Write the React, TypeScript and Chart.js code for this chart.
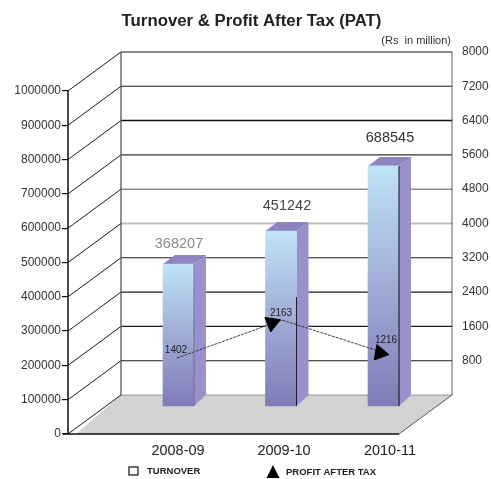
import React, { useEffect, useRef } from "react";
import { Chart, registerables } from "chart.js";

Chart.register(...registerables);

const categories = ["2008-09", "2009-10", "2010-11"];
const turnoverPrinted = ["368207", "451242", "688545"];
const patPrinted = ["1402", "2163", "1216"];
// heights of the bars as read against the left axis
const turnoverBars = [414000, 510000, 700000];
// where the PAT line runs, read against the right axis
const patLineX = [-0.015, 1.01, 2.015];
const patLineY = [862, 1748, 979];
const patMarkerX = [0.912, 1.966];
const patMarkerY = [1678, 979];
const patMarkerTilt = [188, -20];
const leftTicks = [0, 100000, 200000, 300000, 400000, 500000, 600000, 700000, 800000, 900000, 1000000];
const rightTicks = [800, 1600, 2400, 3200, 4000, 4800, 5600, 6400, 7200, 8000];
const legendNames = ["TURNOVER", "PROFIT AFTER TAX"];
const unitNote = "(Rs  in million)";
const titleText = "Turnover & Profit After Tax (PAT)";

const FONT = "'Liberation Sans', Arial, sans-serif";
const DX = 53;
const DY = 39;
const BAR_W = 31;
const SIDE_X = 12;
const SIDE_Y = 9;

const wallColors: Record<number, [string, number]> = {
  4000: ["#bdbdbd", 2],
  4800: ["#555555", 1],
  5600: ["#333333", 1.2],
  6400: ["#111111", 1.4],
};

const scene = {
  id: "scene",
  beforeDatasetsDraw(chart: any) {
    const { ctx, chartArea: a, scales } = chart;
    const yL = scales.y;
    const yR = scales.yR;
    const floorBack = yR.getPixelForValue(0);
    const floorFront = yL.getPixelForValue(0);
    const backL = a.left + DX;
    const backR = a.right;
    const frontR = a.right - DX;
    ctx.save();
    // floor
    ctx.fillStyle = "#d2d2d2";
    ctx.beginPath();
    ctx.moveTo(a.left + 8, floorFront);
    ctx.lineTo(frontR, floorFront);
    ctx.lineTo(backR, floorBack);
    ctx.lineTo(backL, floorBack);
    ctx.closePath();
    ctx.fill();
    // back wall lines
    for (const v of rightTicks) {
      const y = yR.getPixelForValue(v);
      const [c, w] = wallColors[v] || ["#1a1a1a", 1.1];
      ctx.strokeStyle = c;
      ctx.lineWidth = w;
      ctx.beginPath();
      ctx.moveTo(backL, y);
      ctx.lineTo(backR, y);
      ctx.stroke();
    }
    ctx.strokeStyle = "#9a9a9a";
    ctx.lineWidth = 1.2;
    ctx.beginPath();
    ctx.moveTo(backL, floorBack);
    ctx.lineTo(backR, floorBack);
    ctx.stroke();
    // side wall lines
    ctx.strokeStyle = "#1a1a1a";
    ctx.lineWidth = 1;
    for (const v of leftTicks) {
      const y = yL.getPixelForValue(v);
      ctx.beginPath();
      ctx.moveTo(a.left, y);
      ctx.lineTo(backL, y - DY);
      ctx.stroke();
    }
    // verticals
    ctx.strokeStyle = "#555555";
    ctx.lineWidth = 1.3;
    ctx.beginPath();
    ctx.moveTo(backL, yR.getPixelForValue(8000));
    ctx.lineTo(backL, floorBack);
    ctx.stroke();
    ctx.strokeStyle = "#333333";
    ctx.lineWidth = 0.8;
    ctx.beginPath();
    ctx.moveTo(backR, yR.getPixelForValue(8000));
    ctx.lineTo(backR, floorBack);
    ctx.lineTo(frontR, floorFront);
    ctx.stroke();
    ctx.strokeStyle = "#111111";
    ctx.lineWidth = 1.5;
    ctx.beginPath();
    ctx.moveTo(a.left, yL.getPixelForValue(1000000));
    ctx.lineTo(a.left, floorFront);
    ctx.moveTo(a.left - 5, floorFront);
    ctx.lineTo(frontR, floorFront);
    ctx.stroke();
    // bar sides and tops
    const meta = chart.getDatasetMeta(0);
    meta.data.forEach((bar: any) => {
      const l = bar.x - BAR_W / 2;
      const r = bar.x + BAR_W / 2;
      const t = bar.y;
      const b = bar.base;
      ctx.fillStyle = "#9a90cc";
      ctx.beginPath();
      ctx.moveTo(r, t);
      ctx.lineTo(r + SIDE_X, t - SIDE_Y);
      ctx.lineTo(r + SIDE_X, b - 11);
      ctx.lineTo(r, b);
      ctx.closePath();
      ctx.fill();
      ctx.fillStyle = "#8d84c0";
      ctx.beginPath();
      ctx.moveTo(l, t);
      ctx.lineTo(l + SIDE_X, t - SIDE_Y);
      ctx.lineTo(r + SIDE_X, t - SIDE_Y);
      ctx.lineTo(r, t);
      ctx.closePath();
      ctx.fill();
    });
    ctx.restore();
  },
  afterDatasetsDraw(chart: any) {
    const { ctx, chartArea: a } = chart;
    const meta = chart.getDatasetMeta(0);
    const edge = ["#6c6c90", "#1c1c30", "#0c0c18"];
    const edgeTop = [264, 297, 166];
    ctx.save();
    meta.data.forEach((bar: any, i: number) => {
      ctx.strokeStyle = edge[i];
      ctx.lineWidth = 1;
      ctx.beginPath();
      ctx.moveTo(bar.x + BAR_W / 2, edgeTop[i]);
      ctx.lineTo(bar.x + BAR_W / 2, bar.base);
      ctx.stroke();
    });
    // printed values above the bars
    const grey = ["#8a8a8a", "#444444", "#333333"];
    const xShift = [0.5, 6, 6.5];
    const yLift = [20, 25, 28];
    ctx.font = `14.5px ${FONT}`;
    ctx.textAlign = "center";
    ctx.textBaseline = "middle";
    meta.data.forEach((bar: any, i: number) => {
      ctx.fillStyle = grey[i];
      ctx.fillText(turnoverPrinted[i], bar.x + xShift[i], bar.y - yLift[i]);
    });
    // printed PAT values next to the line
    const line = chart.getDatasetMeta(1);
    const off = [[-1, -8], [-1, -7], [1, -13]];
    ctx.font = `10px ${FONT}`;
    ctx.fillStyle = "#222222";
    line.data.forEach((p: any, i: number) => {
      ctx.fillText(patPrinted[i], p.x + off[i][0], p.y + off[i][1]);
    });
    // unit note
    ctx.font = `11px ${FONT}`;
    ctx.fillStyle = "#333333";
    ctx.textAlign = "right";
    ctx.fillText(unitNote, a.right - 1, a.top - 11);
    // legend
    const ly = 471;
    ctx.textAlign = "left";
    ctx.font = `bold 9.5px ${FONT}`;
    ctx.fillStyle = "#222222";
    ctx.fillText(legendNames[0], 147, ly);
    ctx.fillText(legendNames[1], 286, ly + 1);
    ctx.strokeStyle = "#111111";
    ctx.lineWidth = 1.2;
    ctx.strokeRect(129, ly - 4, 9, 8);
    ctx.fillStyle = "#000000";
    ctx.beginPath();
    ctx.moveTo(273, ly - 6);
    ctx.lineTo(279.5, ly + 7);
    ctx.lineTo(266.5, ly + 7);
    ctx.closePath();
    ctx.fill();
    ctx.restore();
  },
};

const bottomTick = (s: any) => {
  s.ticks = [0, 1, 2].map((value) => ({ value }));
};

export default function App() {
  const ref = useRef<HTMLCanvasElement | null>(null);
  useEffect(() => {
    document.body.style.margin = "0";
    const chart = new Chart(ref.current as HTMLCanvasElement, {
      type: "bar",
      plugins: [scene],
      data: {
        datasets: [
          {
            type: "bar",
            label: legendNames[0],
            xAxisID: "xBar",
            yAxisID: "yBar",
            data: turnoverBars.map((y, x) => ({ x, y })),
            barThickness: BAR_W,
            borderWidth: 0,
            order: 3,
            backgroundColor: (c: any) => {
              const sc = c.chart.scales.yBar;
              if (!sc || !c.raw || !c.chart.chartArea) return "#a0b4dc";
              const top = sc.getPixelForValue(c.raw.y);
              const base = sc.getPixelForValue(0);
              if (!Number.isFinite(top) || !Number.isFinite(base)) return "#a0b4dc";
              const g = c.chart.ctx.createLinearGradient(0, top, 0, base);
              g.addColorStop(0, "#bfe4f8");
              g.addColorStop(0.5, "#a0acd6");
              g.addColorStop(1, "#7f7cb8");
              return g;
            },
          },
          {
            type: "line",
            label: "PAT line",
            xAxisID: "xBar",
            yAxisID: "yR",
            data: patLineX.map((x, i) => ({ x, y: patLineY[i] })),
            borderColor: "#2a2a2a",
            borderWidth: 0.9,
            borderDash: [3, 1],
            pointRadius: 0,
            tension: 0,
            order: 2,
          },
          {
            type: "line",
            label: legendNames[1],
            xAxisID: "xBar",
            yAxisID: "yR",
            data: patMarkerX.map((x, i) => ({ x, y: patMarkerY[i] })),
            showLine: false,
            pointStyle: "triangle",
            pointRadius: 9,
            pointRotation: patMarkerTilt,
            backgroundColor: "#000000",
            borderColor: "#000000",
            order: 1,
          },
        ],
      } as any,
      options: {
        animation: false,
        responsive: false,
        layout: { padding: { left: 12, right: 0, top: 0, bottom: 0 } },
        plugins: {
          tooltip: { enabled: false },
          title: {
            display: true,
            text: titleText,
            color: "#222222",
            font: { family: FONT, size: 16.8, weight: "bold", lineHeight: 1.2 },
            padding: { top: 11, bottom: 20.8 },
          },
          legend: { display: false },
        },
        scales: {
          xBar: {
            type: "linear",
            display: false,
            offset: false,
            min: (68 - 178.5) / 102.5,
            max: (452 - 178.5) / 102.5,
          },
          xLab: {
            type: "linear",
            position: "bottom",
            offset: false,
            min: (68 - 178) / 106,
            max: (452 - 178) / 106,
            grid: { display: false, drawTicks: false },
            border: { display: false },
            afterBuildTicks: bottomTick,
            afterFit: (s: any) => {
              s.height = 45;
            },
            ticks: {
              autoSkip: false,
              maxRotation: 0,
              padding: 8,
              color: "#222222",
              font: { family: FONT, size: 14.5 },
              callback: (v: any) => categories[v],
            },
          },
          y: {
            type: "linear",
            position: "left",
            min: 0,
            max: 1113700,
            afterBuildTicks: (s: any) => {
              s.ticks = leftTicks.map((value) => ({ value }));
            },
            afterFit: (s: any) => {
              s.width = 56;
            },
            border: { display: false },
            grid: { drawOnChartArea: false, drawTicks: true, tickLength: 6, color: "#111111", lineWidth: 1.2 },
            ticks: {
              autoSkip: false,
              padding: 1,
              color: "#333333",
              font: { family: FONT, size: 12 },
              callback: (v: any) => String(v),
            },
          },
          yBar: {
            type: "linear",
            display: false,
            min: -81600,
            max: 1032100,
          },
          yR: {
            type: "linear",
            position: "right",
            min: -909.5,
            max: 8000,
            afterBuildTicks: (s: any) => {
              s.ticks = rightTicks.map((value) => ({ value }));
            },
            afterFit: (s: any) => {
              s.width = 39;
            },
            border: { display: false },
            grid: { display: false, drawTicks: false },
            ticks: {
              autoSkip: false,
              padding: 10,
              color: "#333333",
              font: { family: FONT, size: 12 },
              callback: (v: any) => String(v),
            },
          },
        },
      },
    } as any);
    return () => chart.destroy();
  }, []);
  return (
    <div style={{ width: 491, height: 479, overflow: "hidden" }}>
      <canvas ref={ref} width={491} height={479} style={{ display: "block" }} />
    </div>
  );
}
